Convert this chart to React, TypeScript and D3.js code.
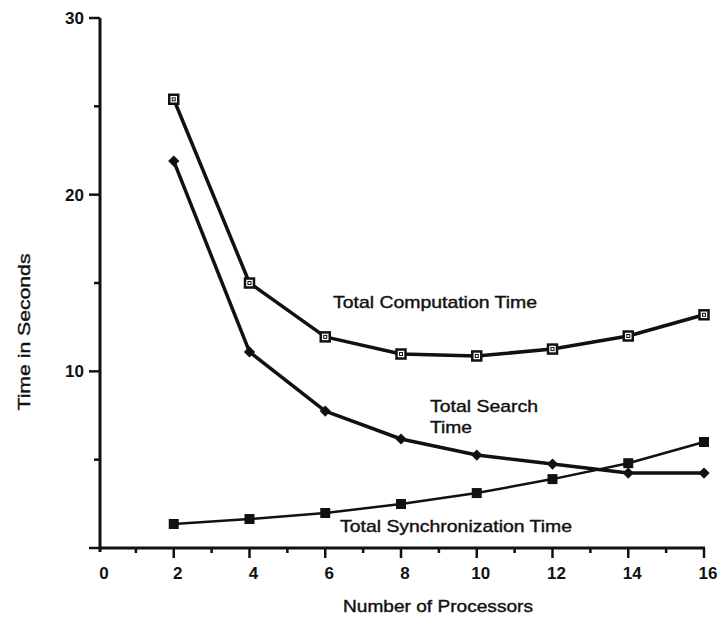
import { useEffect, useRef } from "react";
import * as d3 from "d3";

const processors = [2, 4, 6, 8, 10, 12, 14, 16];
const computationTime = [25.4, 15.0, 11.95, 10.98, 10.87, 11.26, 12.0, 13.2];
const searchTime = [21.9, 11.1, 7.75, 6.17, 5.26, 4.75, 4.24, 4.24];
const syncTime = [1.36, 1.64, 1.98, 2.49, 3.11, 3.9, 4.8, 6.0];

const xTicks = [0, 2, 4, 6, 8, 10, 12, 14, 16];
const xMinorTicks = [1, 3, 5, 7, 9, 11, 13, 15];
const yTicks = [0, 10, 20, 30];
const yMinorTicks = [5, 15, 25];

const FONT = "'Liberation Sans', Arial, Helvetica, sans-serif";

export default function App() {
  const svgRef = useRef<SVGSVGElement>(null);

  useEffect(() => {
    const svg = d3.select(svgRef.current);
    svg.selectAll("*").remove();

    const x = d3.scaleLinear().domain([0, 16]).range([98, 704]);
    const y = d3.scaleLinear().domain([0, 30]).range([548, 18]);

    // y axis
    const yAxis = svg.append("g").attr("transform", "translate(100,0)");
    yAxis
      .append("line")
      .attr("y1", y(30))
      .attr("y2", y(0) + 4)
      .attr("stroke", "#111")
      .attr("stroke-width", 3);
    yAxis
      .selectAll("line.major")
      .data(yTicks)
      .join("line")
      .attr("class", "major")
      .attr("x1", -11)
      .attr("x2", 0)
      .attr("y1", (d) => y(d))
      .attr("y2", (d) => y(d))
      .attr("stroke", "#111")
      .attr("stroke-width", 2.5);
    yAxis
      .selectAll("line.minor")
      .data(yMinorTicks)
      .join("line")
      .attr("class", "minor")
      .attr("x1", -6)
      .attr("x2", 0)
      .attr("y1", (d) => y(d))
      .attr("y2", (d) => y(d))
      .attr("stroke", "#111")
      .attr("stroke-width", 2.5);
    yAxis
      .selectAll("text")
      .data(yTicks.filter((d) => d > 0))
      .join("text")
      .attr("x", -16)
      .attr("y", (d) => y(d))
      .attr("dy", "0.36em")
      .attr("text-anchor", "end")
      .attr("font-family", FONT)
      .attr("font-weight", "bold")
      .attr("font-size", 17)
      .attr("fill", "#111")
      .text((d) => d);

    // x axis
    const xAxis = svg.append("g").attr("transform", `translate(0,${y(0)})`);
    xAxis
      .append("line")
      .attr("x1", 100)
      .attr("x2", x(16) + 1)
      .attr("stroke", "#111")
      .attr("stroke-width", 3);
    xAxis
      .selectAll("line.major")
      .data(xTicks.filter((d) => d > 0))
      .join("line")
      .attr("class", "major")
      .attr("x1", (d) => x(d))
      .attr("x2", (d) => x(d))
      .attr("y1", 0)
      .attr("y2", 10)
      .attr("stroke", "#111")
      .attr("stroke-width", 2.5);
    xAxis
      .selectAll("line.minor")
      .data(xMinorTicks)
      .join("line")
      .attr("class", "minor")
      .attr("x1", (d) => x(d))
      .attr("x2", (d) => x(d))
      .attr("y1", 0)
      .attr("y2", 5)
      .attr("stroke", "#111")
      .attr("stroke-width", 2.5);
    xAxis
      .selectAll("text")
      .data(xTicks)
      .join("text")
      .attr("x", (d) => x(d) + (d === 0 ? 6 : 4))
      .attr("y", 31)
      .attr("text-anchor", "middle")
      .attr("font-family", FONT)
      .attr("font-weight", "bold")
      .attr("font-size", 17)
      .attr("fill", "#111")
      .text((d) => d);

    // axis titles
    svg
      .append("text")
      .attr("x", 438)
      .attr("y", 612)
      .attr("text-anchor", "middle")
      .attr("font-family", FONT)
      .attr("font-size", 17)
      .attr("textLength", 190)
      .attr("lengthAdjust", "spacingAndGlyphs")
      .attr("fill", "#111")
      .attr("stroke", "#111")
      .attr("stroke-width", 0.4)
      .text("Number of Processors");
    svg
      .append("text")
      .attr("transform", "translate(30,332) rotate(-90)")
      .attr("text-anchor", "middle")
      .attr("font-family", FONT)
      .attr("font-size", 17)
      .attr("textLength", 157)
      .attr("lengthAdjust", "spacingAndGlyphs")
      .attr("fill", "#111")
      .attr("stroke", "#111")
      .attr("stroke-width", 0.4)
      .text("Time in Seconds");

    const line = d3
      .line<[number, number]>()
      .x((d) => x(d[0]))
      .y((d) => y(d[1]));

    const series = [
      { values: computationTime, width: 3.5, marker: "open" },
      { values: searchTime, width: 3.5, marker: "diamond" },
      { values: syncTime, width: 2.5, marker: "filled" },
    ];

    series.forEach((s) => {
      const pts: [number, number][] = processors.map((p, i) => [p, s.values[i]]);
      svg
        .append("path")
        .attr("d", line(pts)!)
        .attr("fill", "none")
        .attr("stroke", "#111")
        .attr("stroke-width", s.width)
        .attr("stroke-linejoin", "round");

      const g = svg.append("g");
      if (s.marker === "open") {
        g.selectAll("rect.outer")
          .data(pts)
          .join("rect")
          .attr("class", "outer")
          .attr("x", (d) => x(d[0]) - 4.5)
          .attr("y", (d) => y(d[1]) - 4.5)
          .attr("width", 9)
          .attr("height", 9)
          .attr("fill", "#fff")
          .attr("stroke", "#111")
          .attr("stroke-width", 2.5);
        g.selectAll("rect.inner")
          .data(pts)
          .join("rect")
          .attr("class", "inner")
          .attr("x", (d) => x(d[0]) - 1.5)
          .attr("y", (d) => y(d[1]) - 1.5)
          .attr("width", 3)
          .attr("height", 3)
          .attr("fill", "none")
          .attr("stroke", "#111")
          .attr("stroke-width", 1);
      } else if (s.marker === "diamond") {
        g.selectAll("path")
          .data(pts)
          .join("path")
          .attr("d", d3.symbol(d3.symbolDiamond2, 80)()!)
          .attr("transform", (d) => `translate(${x(d[0])},${y(d[1])})`)
          .attr("fill", "#111");
      } else {
        g.selectAll("rect")
          .data(pts)
          .join("rect")
          .attr("x", (d) => x(d[0]) - 5)
          .attr("y", (d) => y(d[1]) - 5)
          .attr("width", 10)
          .attr("height", 10)
          .attr("fill", "#111");
      }
    });

    // series labels
    const labels = [
      { text: "Total Computation Time", x: 333, y: 308, w: 204 },
      { text: "Total Search", x: 430, y: 412, w: 108 },
      { text: "Time", x: 430, y: 433, w: 42 },
      { text: "Total Synchronization Time", x: 340, y: 532, w: 232 },
    ];
    svg
      .append("g")
      .selectAll("text")
      .data(labels)
      .join("text")
      .attr("x", (d) => d.x)
      .attr("y", (d) => d.y)
      .attr("font-family", FONT)
      .attr("font-size", 17)
      .attr("textLength", (d) => d.w)
      .attr("lengthAdjust", "spacingAndGlyphs")
      .attr("fill", "#111")
      .attr("stroke", "#111")
      .attr("stroke-width", 0.4)
      .text((d) => d.text);
  }, []);

  return (
    <svg
      ref={svgRef}
      width={718}
      height={618}
      style={{ position: "absolute", left: 0, top: 0, background: "#fff" }}
    />
  );
}
